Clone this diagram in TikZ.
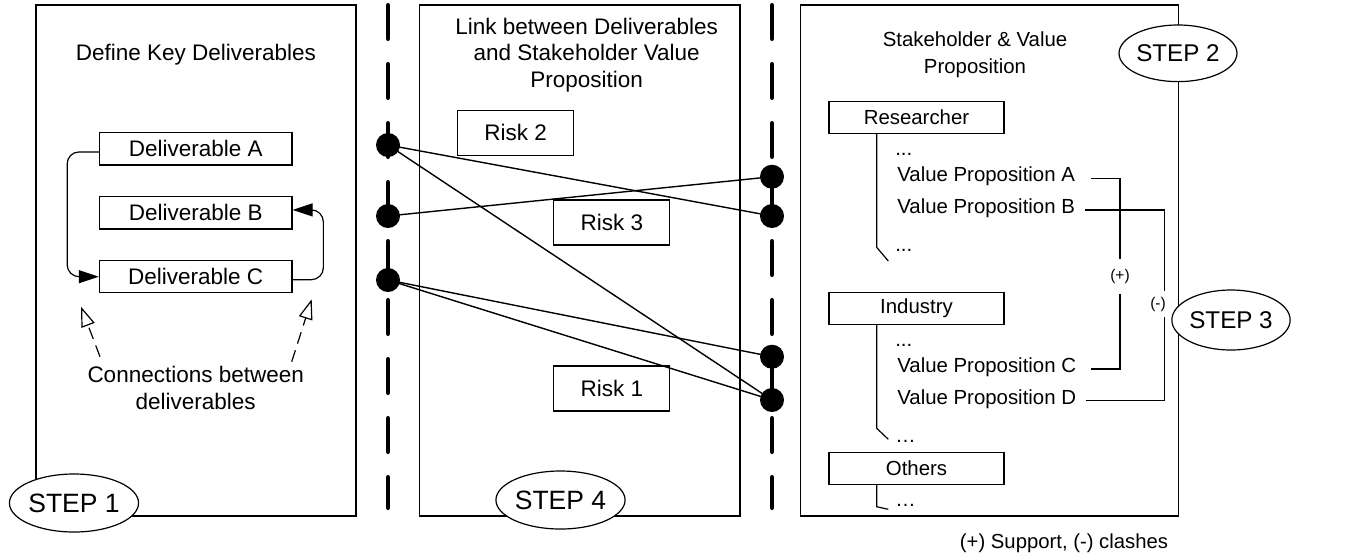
\documentclass[tikz,border=0pt]{standalone}
\usepackage{fontspec}
\setmainfont{Liberation Sans}
\usetikzlibrary{arrows.meta,shapes.geometric}
\begin{document}
\begin{tikzpicture}[x=1pt,y=-1pt,
  line width=1.2pt,
  fA/.style={font=\fontsize{22.5}{26.7}\selectfont},
  fB/.style={font=\fontsize{20.4}{26.7}\selectfont},
  fS/.style={font=\fontsize{15.5}{18}\selectfont},
  panel/.style={draw, rectangle, inner sep=0pt},
  box/.style={draw, fill=white, rectangle, inner sep=0pt},
  stepell/.style={draw, fill=white, ellipse, inner sep=0pt},
  dot/.style={circle, fill=black, minimum size=24pt, inner sep=0pt},
  divider/.style={line width=4.5pt, line cap=round, dash pattern=on 33.5pt off 25.5pt},
  link/.style={line width=1.4pt},
  loop/.style={rounded corners=12pt, -{Triangle[length=20pt,width=13pt]}},
  hint/.style={dash pattern=on 12pt off 7pt, -{Triangle[open,length=20pt,width=14pt]}},
  lbl/.style={fB, inner sep=0pt, text height=0.716em, text depth=0pt, anchor=west},
  dots/.style={fB, inner sep=0pt, anchor=base west}
]
\useasboundingbox (0,0) rectangle (1346,558);

% panels
\node[panel, minimum width=320pt, minimum height=511pt] (p1) at (196,260.5) {};
\node[panel, minimum width=320.7pt, minimum height=511pt] (p2) at (579.7,260.5) {};
\node[panel, minimum width=378pt, minimum height=511pt] (p3) at (989.7,260.5) {};

% dividers
\coordinate (d1t) at (388,5.25);
\coordinate (d1b) at (388,507.75);
\coordinate (d2t) at (772,5.25);
\coordinate (d2b) at (772,507.75);
\draw[divider] (d1t) -- (d1b);
\draw[divider] (d2t) -- (d2b);

% panel 1
\node[fA, anchor=base, inner sep=0pt] (t1) at (196,60) {Define Key Deliverables};
\node[box, fA, minimum width=192.7pt, minimum height=32.3pt] (dA) at (195.7,148.9) {Deliverable A};
\node[box, fA, minimum width=192.7pt, minimum height=32.3pt] (dB) at (195.7,212.9) {Deliverable B};
\node[box, fA, minimum width=192.7pt, minimum height=32.3pt] (dC) at (195.7,276.7) {Deliverable C};
\draw[loop] ([yshift=-3pt]dA.west) -- ++(-31.6,0) |- (dC.west);
\draw[loop] ([yshift=-3pt]dC.east) -- ++(30.7,0) |- ([yshift=3pt]dB.east);
\node[fA, align=center, anchor=north, inner sep=0pt] (conn) at (195.7,365.6) {Connections between\\deliverables};
\coordinate (h1s) at (100,356.7);
\coordinate (h1e) at (81,306.7);
\coordinate (h2s) at (291.7,361.7);
\coordinate (h2e) at (311.7,299.3);
\draw[hint] (h1s) -- (h1e);
\draw[hint] (h2s) -- (h2e);

% panel 2
\node[fA, align=center, anchor=north, inner sep=0pt] (t2) at (586.7,17.2) {Link between Deliverables\\and Stakeholder Value\\Proposition};
\node[box, fA, minimum width=116pt, minimum height=45pt] (r2) at (515.7,132.8) {Risk 2};
\node[box, fA, minimum width=116pt, minimum height=45pt] (r3) at (611.8,222.5) {Risk 3};
\node[box, fA, minimum width=116pt, minimum height=45pt] (r1) at (611.8,388.5) {Risk 1};

% dots
\node[dot] (L1) at (388,145) {};
\node[dot] (L2) at (388,216) {};
\node[dot] (L3) at (388,280) {};
\node[dot] (R1) at (772,176.7) {};
\node[dot] (R2) at (772,216) {};
\node[dot] (R3) at (772,356.7) {};
\node[dot] (R4) at (772,400) {};
\draw[link] (L1.center) -- (R2.center);
\draw[link] (L1.center) -- (R4.center);
\draw[link] (L2.center) -- (R1.center);
\draw[link] (L3.center) -- (R3.center);
\draw[link] (L3.center) -- (R4.center);

% panel 3
\node[fB, align=center, anchor=north, inner sep=0pt] (t3) at (975,31.4) {Stakeholder \& Value\\Proposition};
\node[box, fB, minimum width=175pt, minimum height=32pt] (res) at (916.5,117.2) {Researcher};
\node[box, fB, minimum width=175pt, minimum height=32pt] (ind) at (916.5,308.5) {Industry};
\node[box, fB, minimum width=175pt, minimum height=32pt] (oth) at (916.5,468.2) {Others};

\coordinate (tr1) at (876.7,247.3);
\coordinate (tr1e) at (888.3,261);
\coordinate (tr2) at (876.7,428.3);
\coordinate (tr2e) at (888.3,439.3);
\coordinate (tr3) at (876.7,506.7);
\coordinate (tr3e) at (888.3,509.3);
\draw (res.south -| tr1) -- (tr1) -- (tr1e);
\draw (ind.south -| tr2) -- (tr2) -- (tr2e);
\draw (oth.south -| tr3) -- (tr3) -- (tr3e);

\node[dots] (e1) at (894.7,155) {...};
\node[dots] (e2) at (894.7,251) {...};
\node[dots] (e3) at (894.7,346) {...};
\node[dots] (e4) at (894.7,442.7) {…};
\node[dots] (e5) at (894.7,506.7) {…};

\node[lbl] (vpA) at (896.7,178.3) {Value Proposition A};
\node[lbl] (vpB) at (896.7,210) {Value Proposition B};
\node[lbl] (vpC) at (896.7,369) {Value Proposition C};
\node[lbl] (vpD) at (896.7,400.7) {Value Proposition D};

\node[fS, inner sep=0pt, minimum height=33pt] (plus) at (1120,276.5) {(+)};
\draw ([xshift=15.7pt]vpA.east) -| (plus.north);
\draw (plus.south) |- ([xshift=14.7pt]vpC.east);
\node[fS, inner sep=0pt, minimum height=25pt] (minus) at (1158,304.2) {(-)};
\draw ([xshift=9pt]vpB.east) -| ([xshift=6.3pt]minus.north);
\draw ([xshift=6.3pt]minus.south) |- ([xshift=9pt]vpD.east);

\node[font=\fontsize{20.3}{24}\selectfont, anchor=base, inner sep=0pt] (legend) at (1064,548.3) {(+) Support, (-) clashes};

% step ellipses
\node[stepell, minimum width=128pt, minimum height=58pt, font=\fontsize{26.5}{30}\selectfont] (s1) at (74,503) {STEP 1};
\node[stepell, minimum width=129pt, minimum height=58pt, font=\fontsize{26.5}{30}\selectfont] (s4) at (560.5,500) {STEP 4};
\node[stepell, minimum width=117.4pt, minimum height=56.6pt, font=\fontsize{24.2}{28}\selectfont] (s2) at (1178,53.3) {STEP 2};
\node[stepell, minimum width=118.3pt, minimum height=60pt, font=\fontsize{24.2}{28}\selectfont] (s3) at (1231,320) {STEP 3};
\end{tikzpicture}
\end{document}
